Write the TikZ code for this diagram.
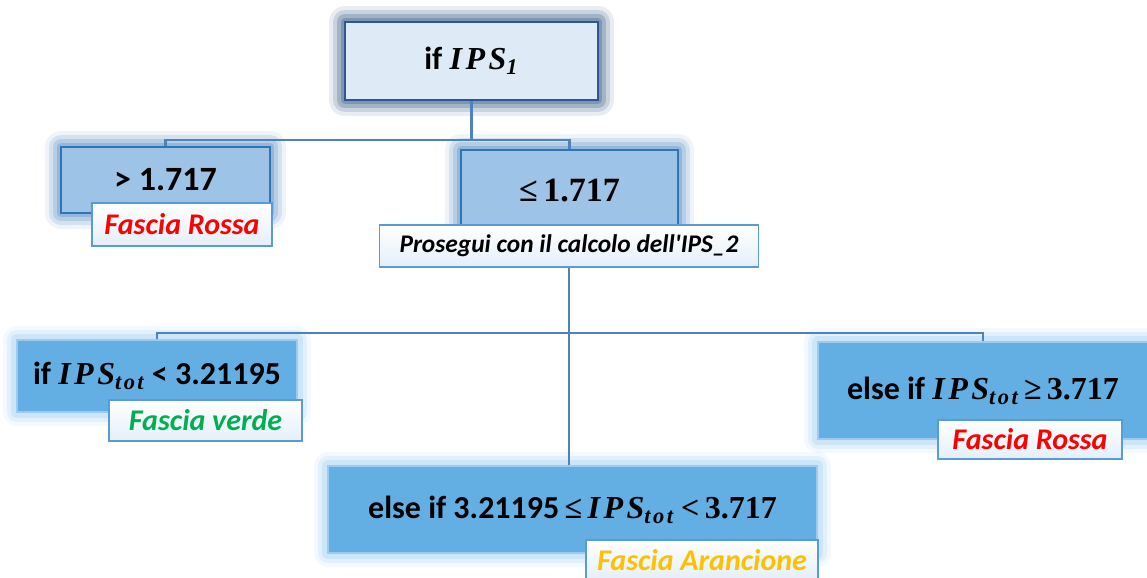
\documentclass[tikz,border=0pt]{standalone}
\usepackage{fontspec}
\setmainfont{Carlito}
\newfontfamily\mathserif[LetterSpace=11]{Liberation Serif}
\newfontfamily\numserif{Liberation Serif}
\newcommand\IPS[1]{{\mathserif\bfseries\itshape IPS\textsubscript{#1}}}
\newcommand\sernum[1]{{\numserif\bfseries #1}}

\definecolor{topfill}{HTML}{DEEBF7}
\definecolor{topline}{HTML}{2F5597}
\definecolor{topglow}{HTML}{4A6A90}
\definecolor{midfill}{HTML}{9DC3E6}
\definecolor{midline}{HTML}{2E75B6}
\definecolor{midglow}{HTML}{5B8FC6}
\definecolor{lowfill}{HTML}{63AFE4}
\definecolor{lowline}{HTML}{9CCBEF}
\definecolor{lowglow}{HTML}{9ACCF3}
\definecolor{tagline}{HTML}{5B9BD5}
\definecolor{tagbot}{HTML}{E4EFFA}
\definecolor{wire}{HTML}{4F81BD}
\definecolor{rosso}{HTML}{FF0000}
\definecolor{verde}{HTML}{00B050}
\definecolor{arancio}{HTML}{FFC000}

\begin{document}
\begin{tikzpicture}[x=0.5pt,y=-0.5pt,semithick,font=\bfseries\fontsize{16}{19}\selectfont]
          \tikzstyle{topbox}=[draw=topline,fill=topfill,line width=1pt,
            preaction={draw=topglow,line width=16pt,opacity=0.12,line join=round},
            preaction={draw=topglow,line width=12pt,opacity=0.2,line join=round},
            preaction={draw=topglow,line width=8pt,opacity=0.3,line join=round},
            preaction={draw=topglow,line width=4pt,opacity=0.4,line join=round}]
          \tikzstyle{midbox}=[draw=midline,fill=midfill,line width=1pt,
            preaction={draw=midglow,line width=16pt,opacity=0.1,line join=round},
            preaction={draw=midglow,line width=12pt,opacity=0.18,line join=round},
            preaction={draw=midglow,line width=8pt,opacity=0.25,line join=round},
            preaction={draw=midglow,line width=4pt,opacity=0.35,line join=round}]
          \tikzstyle{lowbox}=[draw=lowline,fill=lowfill,line width=1pt,
            preaction={draw=lowglow,line width=14pt,opacity=0.12,line join=round},
            preaction={draw=lowglow,line width=10pt,opacity=0.2,line join=round},
            preaction={draw=lowglow,line width=6pt,opacity=0.3,line join=round}]
          \tikzstyle{tag}=[draw=tagline,top color=white,bottom color=tagbot,line width=0.8pt,
            inner sep=0pt,font=\bfseries\itshape\fontsize{15}{18}\selectfont]
          \tikzstyle{wires}=[draw=wire,line width=1.1pt]

          \useasboundingbox (0,0) rectangle (1147,578);

          % first level
          \node[topbox,minimum width=126.5pt,minimum height=39pt] (ips1) at (471.5,61) {if \IPS{1}};
          \node[midbox,minimum width=104.5pt,minimum height=33pt,font=\bfseries\fontsize{17}{20}\selectfont]
               (gt) at (165.5,180) {> 1.717};
          \node[midbox,minimum width=108.5pt,minimum height=41pt] (le) at (569.5,191)
               {\fontsize{17}{20}\selectfont\sernum{≤\,1.717}};
          \node[tag,minimum width=90pt,minimum height=21.5pt,text=rosso] (rossa1) at (182,224.5) {Fascia Rossa};
          \node[tag,minimum width=189.5pt,minimum height=21pt,font=\bfseries\itshape\fontsize{12.7}{16}\selectfont]
               (ips2) at (569,246) {Prosegui con il calcolo dell\textquotesingle IPS\_2};

          % second level
          \node[lowbox,minimum width=140pt,minimum height=36pt]   (lt)  at (157,376) {if \IPS{tot} < 3.21195};
          \node[lowbox,minimum width=165pt,minimum height=48.5pt] (ge)  at (983,390.5)
               {else if \IPS{tot}\,\sernum{≥\,3.717}};
          \node[lowbox,minimum width=244.5pt,minimum height=43.5pt] (mid) at (572.5,509.5)
               {else if 3.21195\,\sernum{≤}\,\IPS{tot} \sernum{<\,3.717}};
          \node[tag,minimum width=96.5pt,minimum height=20.5pt,text=verde]   (verde)  at (205.5,420.5) {Fascia verde};
          \node[tag,minimum width=92pt,minimum height=19.5pt,text=rosso]     (rossa2) at (1030,439.5) {Fascia Rossa};
          \node[tag,minimum width=116pt,minimum height=20pt,text=arancio]    (aranc)  at (702,560) {Fascia Arancione};

          \coordinate (j1) at (471.5,140);
          \coordinate (j2) at (569,333);

          \draw[wires] (ips1.south) -- (j1) -| (gt.north);
          \draw[wires] (j1) -| (le.north);
          \draw[wires] (ips2.south) -- (ips2.south |- mid.north);
          \draw[wires] (j2) -| (lt.north);
          \draw[wires] (j2) -| (ge.north);
        \end{tikzpicture}
\end{document}
